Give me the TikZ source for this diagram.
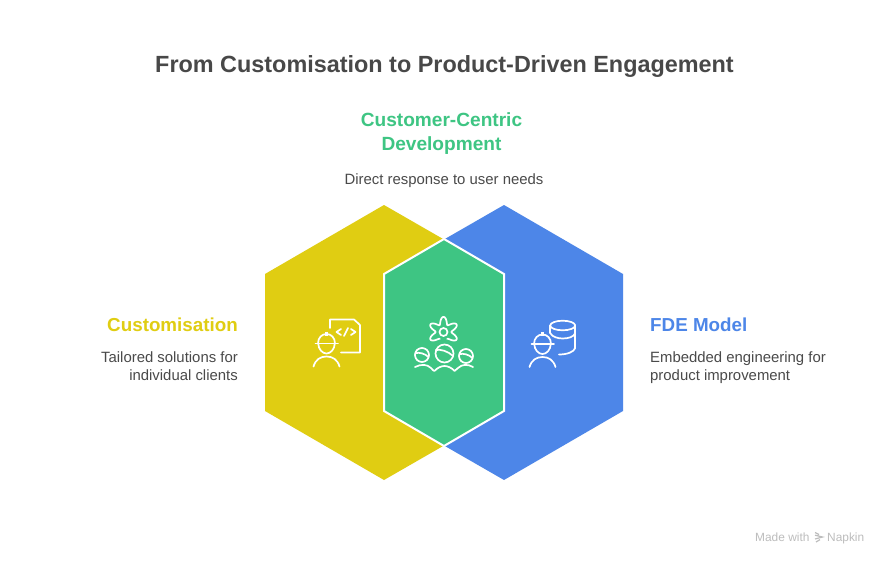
\documentclass[tikz,border=0pt]{standalone}
\usepackage{fontspec}
\setmainfont{Liberation Sans}
\definecolor{cyellow}{HTML}{E0CD12}
\definecolor{cgreen}{HTML}{3EC583}
\definecolor{cblue}{HTML}{4D86E8}
\definecolor{ctext}{HTML}{484848}
\definecolor{cbody}{HTML}{4A4A4A}
\definecolor{cmark}{HTML}{BDBDBD}
\tikzset{
  x=1pt,y=-1pt,
  iconline/.style={draw=white,line width=1.7pt,line cap=round,line join=round},
  titletext/.style={font=\fontsize{23.4}{28}\selectfont\bfseries,text=ctext,inner sep=0pt,anchor=base},
  headtext/.style={font=\fontsize{18.8}{24}\selectfont\bfseries,inner sep=0pt},
  bodytext/.style={font=\fontsize{14.9}{18}\selectfont,text=cbody,inner sep=0pt},
  marktext/.style={font=\fontsize{11.9}{13}\selectfont,text=cmark,inner sep=0pt,anchor=base west},
  worker/.pic={
    \draw[iconline] (-11,0) -- (11.5,0);
    \draw[iconline] (-8.5,0) .. controls (-8.5,-6) and (-4.5,-9.5) .. (0,-9.5) .. controls (4.5,-9.5) and (8.5,-6) .. (8.5,0);
    \draw[iconline] (-8.3,0) .. controls (-8,6) and (-4,10) .. (0,10) .. controls (4,10) and (8,6) .. (8.3,0);
    \draw[iconline,line width=2.6pt,line cap=butt] (0,-12) -- (0,-8);
    \draw[iconline] (-13,23) .. controls (-11,16) and (-6,13) .. (0,13) .. controls (6,13) and (11,16) .. (13,23);
  },
  smallhead/.pic={
    \draw[iconline] (0,0) circle[radius=7];
    \draw[iconline] (-6.6,-1.8) .. controls (-3,-3) and (3,-1.5) .. (6.4,2);
  }
}
\begin{document}
\begin{tikzpicture}
\useasboundingbox[fill=white] (0,0) rectangle (888,564);
\fill[cyellow] (384,205) -- (265,274) -- (265,411) -- (384,480) -- (504,411) -- (504,274) -- cycle;
\fill[cblue] (504,205) -- (623,274) -- (623,411) -- (504,480) -- (384,411) -- (384,274) -- cycle;
\draw[white,line width=2pt,fill=cgreen,line join=miter] (444,239) -- (504,274) -- (504,411) -- (444,446) -- (384,411) -- (384,274) -- cycle;
\node[titletext] (title) at (444.5,73) {From Customisation to Product-Driven Engagement};
\node[headtext,font=\fontsize{19.1}{24}\selectfont\bfseries,text=cgreen,anchor=base] (h1) at (441.5,127) {Customer-Centric};
\node[headtext,font=\fontsize{19.1}{24}\selectfont\bfseries,text=cgreen,anchor=base] (h2) at (441.5,151) {Development};
\node[bodytext,anchor=base] (d1) at (444,185) {Direct response to user needs};
\node[headtext,text=cyellow,anchor=base east] (h3) at (238,331) {Customisation};
\node[bodytext,anchor=base east] (d2) at (238,362) {Tailored solutions for};
\node[bodytext,anchor=base east] (d3) at (238,380) {individual clients};
\node[headtext,text=cblue,anchor=base west] (h4) at (650,331) {FDE Model};
\node[bodytext,anchor=base west] (d4) at (650,362) {Embedded engineering for};
\node[bodytext,anchor=base west] (d5) at (650,380) {product improvement};
% left icon
\pic at (326.5,343.5) {worker};
\draw[iconline] (341,352.5) -- (360,352.5) -- (360,325) -- (354,319.5) -- (330,319.5) -- (330,328);
\draw[iconline] (341,329) -- (336.5,332) -- (341,335);
\draw[iconline] (351,329) -- (355.5,332) -- (351,335);
\draw[iconline] (344,336) -- (348,328);
% centre icon
\draw[iconline] plot[domain=-62:242,samples=90,smooth] ({443.5+(11.5+3.6*cos(6*(\x-90)))*cos(\x)},{332-(11.5+3.6*cos(6*(\x-90)))*sin(\x)});
\draw[iconline] (443.5,332) circle[radius=4];
\pic at (422,355) {smallhead};
\pic at (466,356) {smallhead};
\draw[iconline] (444.5,353.5) circle[radius=9];
\draw[iconline] (436,350) .. controls (440,349) and (448,351) .. (453,356);
\draw[iconline] (415,367) .. controls (421,364) and (427,364) .. (431,368) .. controls (432.5,370) and (434,371) .. (434.5,371) .. controls (437,368) and (441,366) .. (444.5,366) .. controls (448,366) and (452,368) .. (454.5,371) .. controls (456,370) and (457,369) .. (458,368) .. controls (462,364) and (468,364) .. (473,367);
% right icon
\pic at (542.5,344) {worker};
\draw[iconline] (562.7,325.5) ellipse[x radius=12.5,y radius=4.8];
\draw[iconline] (550.2,325.5) -- (550.2,333);
\draw[iconline] (575.2,325.5) -- (575.2,348);
\draw[iconline] (550.2,333) .. controls (552,337) and (558,338.5) .. (562.7,338.5) .. controls (568,338.5) and (574,337) .. (575.2,333);
\draw[iconline] (575.2,348) .. controls (574,352) and (567,354.5) .. (559,354.5);
% watermark
\node[marktext] (m1) at (755,541) {Made with};
\node[marktext] (m2) at (827,541) {Napkin};
\draw[cmark,line width=1.2pt] (815,532.5) -- (819,534.5) (815,535.2) -- (822.5,537) -- (815,539) (820,539.6) -- (816,542);
\end{tikzpicture}
\end{document}
